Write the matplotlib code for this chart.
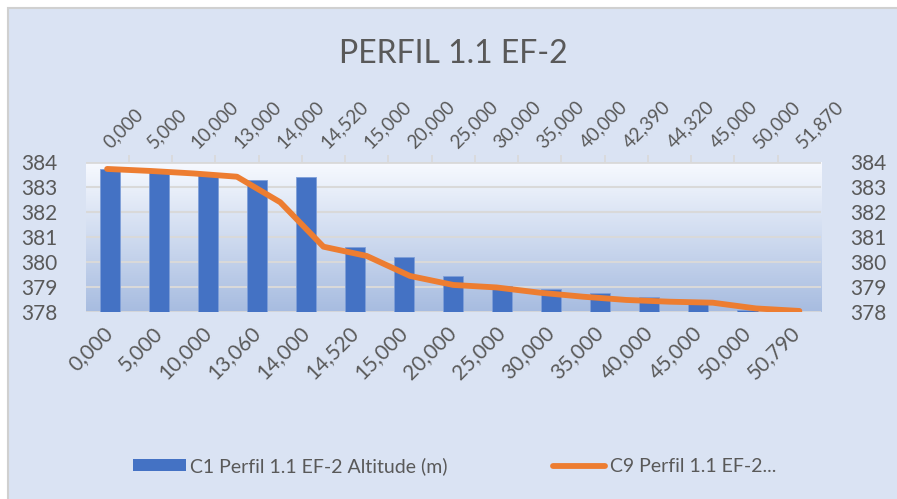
import numpy as np
import matplotlib
matplotlib.use('Agg')
import matplotlib.pyplot as plt
from matplotlib.patches import Rectangle, Patch
from matplotlib.lines import Line2D

plt.rcParams['font.family'] = ['Lato', 'DejaVu Sans']

# bottom axis: bars (altitude)
bar_labels = ['0,000', '5,000', '10,000', '13,060', '14,000', '14,520', '15,000',
              '20,000', '25,000', '30,000', '35,000', '40,000', '45,000', '50,000', '50,790']
bar_values = [383.70, 383.60, 383.47, 383.25, 383.38, 380.58, 380.20,
              379.44, 379.04, 378.90, 378.73, 378.60, 378.40, 378.08, 378.0]

# top axis: line (C9 profile)
line_labels = ['0,000', '5,000', '10,000', '13,000', '14,000', '14,520', '15,000', '20,000',
               '25,000', '30,000', '35,000', '40,000', '42,390', '44,320', '45,000', '50,000', '51,870']
line_values = [383.71, 383.63, 383.53, 383.40, 382.38, 380.60, 380.23, 379.43,
               379.07, 378.97, 378.76, 378.60, 378.47, 378.40, 378.36, 378.13, 378.03]

txt = '#595959'
bg = '#DAE3F3'
grid_c = '#D9D9D9'

fig = plt.figure(figsize=(8.97, 4.99), dpi=100)
fig.patch.set_facecolor('white')
# chart area with border
fig.patches.append(Rectangle((8/897, -0.01), 1, 1.01 - 8/499, transform=fig.transFigure,
                             facecolor=bg, edgecolor='#D0D0D0', linewidth=1.5, zorder=-1))

rect = [85.5/897, 1 - 311.7/499, 735.5/897, 150/499]
ax = fig.add_axes(rect)
ax.set_xlim(-0.5, len(bar_labels) - 0.5)

# gradient background of plot area (white at top, blue at bottom)
grad = np.linspace(0, 1, 256)
top_c = np.array([0.97, 0.98, 1.0])
bot_c = np.array([0.655, 0.737, 0.878])
img = (top_c + (bot_c - top_c) * grad[:, None]).reshape(256, 1, 3)
ax.imshow(img, extent=(-0.5, len(bar_labels) - 0.5, 378, 384), origin='upper',
          aspect='auto', zorder=0)
ax.set_ylim(378, 384)

for v in range(379, 384):
    ax.axhline(v, color=grid_c, lw=1.5, zorder=1)
ax.axhline(384, color=grid_c, lw=2, zorder=1)
ax.axhline(378, color=grid_c, lw=2, zorder=1)

x = np.arange(len(bar_labels))
ax.bar(x, np.array(bar_values) - 378, bottom=378, width=0.41, color='#4472C4',
       edgecolor='#7F9FD8', linewidth=0.6, zorder=2)

for s in ax.spines.values():
    s.set_visible(False)
ax.set_xticks(x)
ax.set_xticklabels(bar_labels, rotation=45, ha='right', va='center',
                   rotation_mode='anchor', fontsize=15, color=txt)
ax.tick_params(axis='x', length=0, pad=13)
ax.set_yticks(range(378, 385))
ax.tick_params(axis='y', length=0, pad=20, labelsize=15, labelcolor=txt)

# second axes: top x, right y
ax2 = fig.add_axes(rect)
ax2.patch.set_visible(False)
ax2.set_xlim(-0.5, len(line_labels) - 0.5)
ax2.set_ylim(378, 384)
xl = np.arange(len(line_labels))
ax2.plot(xl, line_values, color='#ED7D31', lw=4.2, solid_capstyle='round',
         solid_joinstyle='round', zorder=3)
for s in ax2.spines.values():
    s.set_visible(False)
ax2.xaxis.tick_top()
ax2.set_xticks(xl)
ax2.set_xticklabels(line_labels, rotation=45, ha='left', va='center',
                    rotation_mode='anchor', fontsize=13.5, color=txt)
ax2.set_xticks(np.arange(0.5, len(line_labels) - 1, 1), minor=True)
ax2.tick_params(axis='x', which='major', length=0, pad=12)
ax2.tick_params(axis='x', which='minor', length=5, color=grid_c, width=1.2)
ax2.yaxis.tick_right()
ax2.set_yticks(range(378, 385))
ax2.tick_params(axis='y', length=0, pad=21, labelsize=15, labelcolor=txt)

fig.text(453/897, 1 - 54/499, 'PERFIL 1.1 EF-2', ha='center', va='center',
         fontsize=23, color=txt)

handles = [Patch(facecolor='#4472C4', edgecolor='none'),
           Line2D([], [], color='#ED7D31', lw=4.2, solid_capstyle='round')]
fig.legend(handles, ['C1 Perfil 1.1 EF-2 Altitude (m)', 'C9 Perfil 1.1 EF-2...'],
           loc='center left', bbox_to_anchor=(133/897, 1 - 466/499), ncol=2,
           frameon=False, fontsize=14, labelcolor=txt, handlelength=2.7,
           handleheight=0.55, handletextpad=0.25, columnspacing=5.4,
           borderpad=0, borderaxespad=0)

fig.savefig('out.png', dpi=100, facecolor=fig.get_facecolor())
